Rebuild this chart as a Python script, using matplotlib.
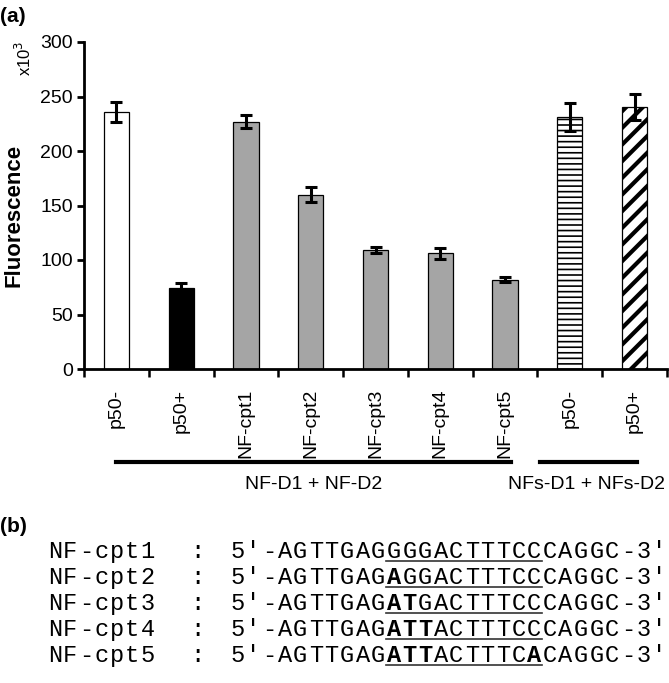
import numpy as np
import matplotlib
matplotlib.use('Agg')
import matplotlib.pyplot as plt
import matplotlib.transforms as mtransforms

plt.rcParams['font.family'] = ['Liberation Sans', 'DejaVu Sans']

# Data (x10^3 fluorescence units)
labels = ['p50-', 'p50+', 'NF-cpt1', 'NF-cpt2', 'NF-cpt3', 'NF-cpt4', 'NF-cpt5', 'p50-', 'p50+']
values = [236, 74, 227, 160, 109, 106, 82, 231, 240]
errors = [9, 5, 6, 7, 3, 5, 2, 13, 12]
groups = ['NF-D1 + NF-D2', 'NFs-D1 + NFs-D2']

seq_names = ['NF-cpt1', 'NF-cpt2', 'NF-cpt3', 'NF-cpt4', 'NF-cpt5']
seq_core = ['AGTTGAGGGGACTTTCCCAGGC',
            'AGTTGAGAGGACTTTCCCAGGC',
            'AGTTGAGATGACTTTCCCAGGC',
            'AGTTGAGATTACTTTCCCAGGC',
            'AGTTGAGATTACTTTCACAGGC']
# positions (within core) printed in bold
seq_bold = [[], [7], [7, 8], [7, 8, 9], [7, 8, 9, 16]]

W, H = 669, 683
fig = plt.figure(figsize=(W / 100, H / 100), dpi=100)


def fx(px):
    return px / W


def fy(py):
    return 1 - py / H


# ---- panel (a)
ax = fig.add_axes([fx(84), fy(369), (667 - 84) / W, (369 - 42) / H])
x = np.arange(len(values))
facecolors = ['white', 'black'] + ['#a5a5a5'] * 5 + ['white', 'white']
hatches = [None] * 7 + ['---', '//']
bars = ax.bar(x, values, width=0.39, color=facecolors, edgecolor='black', linewidth=0.9, zorder=2)
for b, h in zip(bars, hatches):
    if h:
        b.set_hatch(h)
        if hasattr(b, 'set_hatch_linewidth'):
            b.set_hatch_linewidth(1.2 if h == '---' else 3.0)
ax.errorbar(x, values, yerr=errors, fmt='none', ecolor='black', elinewidth=2.2,
            capsize=4, capthick=2.2, zorder=3)

ax.set_xlim(-0.5, len(values) - 0.5)
ax.set_ylim(0, 300)
ax.set_yticks(np.arange(0, 301, 50))
ax.tick_params(axis='y', labelsize=14, direction='out', length=5, width=2, pad=3)
ax.set_xticks(x)
ax.set_xticklabels(labels, rotation=90, fontsize=14)
ax.tick_params(axis='x', which='major', length=0, pad=14)
ax.set_xticks(np.arange(-0.5, len(values), 1.0), minor=True)
ax.tick_params(axis='x', which='minor', direction='out', length=6, width=1.8)
for s in ['top', 'right']:
    ax.spines[s].set_visible(False)
ax.spines['left'].set_linewidth(2)
ax.spines['bottom'].set_linewidth(2)

trans = mtransforms.blended_transform_factory(ax.transData, ax.transAxes)
ax.plot([0.0, 6.09], [-0.283, -0.283], color='black', lw=3, transform=trans, clip_on=False)
ax.plot([6.54, 8.03], [-0.283, -0.283], color='black', lw=3, transform=trans, clip_on=False)
ax.text(3.05, -0.353, groups[0], transform=trans, ha='center', va='center', fontsize=14)
ax.text(7.25, -0.353, groups[1], transform=trans, ha='center', va='center', fontsize=14)

fig.text(fx(14), fy(215), 'Fluorescence', rotation=90, ha='center', va='center',
         fontsize=16, fontweight='bold')
fig.text(fx(24), fy(58), r'x10$^3$', rotation=90, ha='center', va='center', fontsize=12)
fig.text(fx(0), fy(16), '(a)', ha='left', va='center', fontsize=15, fontweight='bold')

# ---- panel (b)
fig.text(fx(0), fy(527), '(b)', ha='left', va='center', fontsize=15, fontweight='bold')
mono = 'Liberation Mono'
pitch = 15.6
seq_x0 = 230
for r, (name, core, bold) in enumerate(zip(seq_names, seq_core, seq_bold)):
    base = 558 + r * 26
    for i, ch in enumerate(name):
        fig.text(fx(47 + (i + 0.5) * 15.5), fy(base), ch, ha='center', va='baseline',
                 family=mono, fontsize=17)
    fig.text(fx(197), fy(base), ':', ha='center', va='baseline', family=mono, fontsize=17)
    full = "5'-" + core + "-3'"
    for i, ch in enumerate(full):
        ci = i - 3
        wt = 'bold' if 0 <= ci < len(core) and ci in bold else 'normal'
        fig.text(fx(seq_x0 + (i + 0.5) * pitch), fy(base), ch, ha='center', va='baseline',
                 family=mono, fontsize=17, fontweight=wt)
    # underline of the kB site (core positions 7..16)
    ux0 = seq_x0 + (3 + 7) * pitch
    ux1 = seq_x0 + (3 + 17) * pitch
    fig.add_artist(plt.Line2D([fx(ux0), fx(ux1)], [fy(base + 2.5), fy(base + 2.5)],
                              color='#333333', lw=1.2, transform=fig.transFigure))

fig.savefig('out.png', dpi=100)
